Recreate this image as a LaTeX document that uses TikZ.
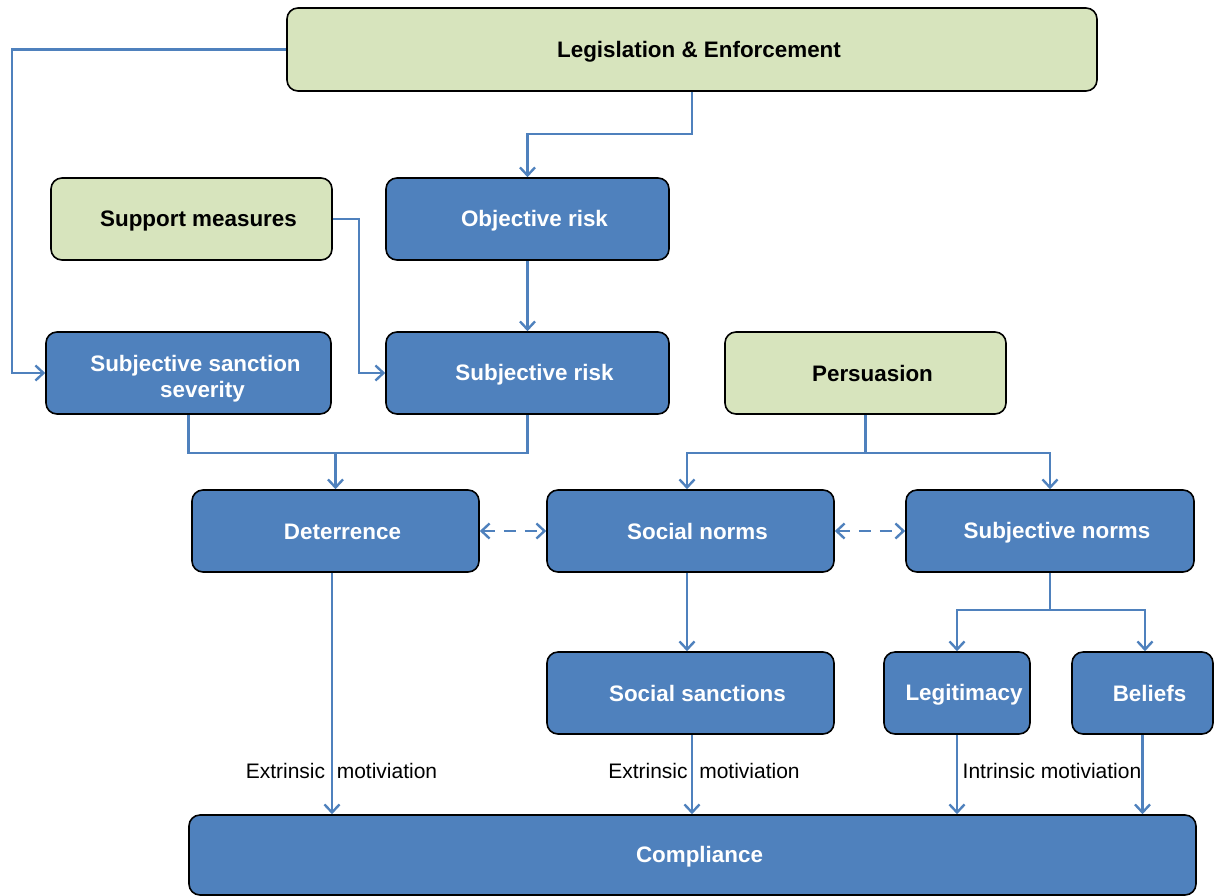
\documentclass[tikz,border=0pt]{standalone}
\usepackage{fontspec}
\setmainfont{Liberation Sans}
\usetikzlibrary{arrows.meta,calc}
\definecolor{boxblue}{HTML}{4F81BD}
\definecolor{boxgreen}{HTML}{D7E4BD}
\definecolor{linkblue}{HTML}{4F81BD}
\newcommand\txs{\hspace*{14pt}\rule[-4pt]{0pt}{24pt}}
\tikzset{
  bbox/.style={draw=black, line width=1.6pt, rounded corners=11pt, fill=boxblue,
    text=white, font=\bfseries\fontsize{22.4}{26}\selectfont, align=center,
    inner sep=0pt, execute at begin node=\txs},
  gbox/.style={bbox, fill=boxgreen, text=black},
  link/.style={draw=linkblue, line width=2.6pt},
  arr/.style={link, -{Straight Barb[length=8pt,width=15pt,line width=2.4pt]}},
  darr/.style={link, dash pattern=on 12pt off 9pt,
    {Straight Barb[length=8pt,width=15pt,line width=2.4pt]}-{Straight Barb[length=8pt,width=15pt,line width=2.4pt]}},
  lab/.style={font=\fontsize{21}{24}\selectfont, inner sep=0pt}
}
\begin{document}
\begin{tikzpicture}[x=1pt,y=-1pt]
\useasboundingbox (0,0) rectangle (1215,895);
% boxes
\node[gbox, minimum width=810pt, minimum height=83pt] (leg) at (692,49.5) {Legislation \& Enforcement};
\node[gbox, minimum width=281pt, minimum height=82pt] (sup) at (191.5,219) {Support measures};
\node[bbox, minimum width=283pt, minimum height=82pt] (obj) at (527.5,219) {Objective risk};
\node[bbox, minimum width=285pt, minimum height=82pt] (sss) at (188.5,373) {\rule[-4pt]{0pt}{32pt}Subjective sanction\\\txs severity};
\node[bbox, minimum width=283pt, minimum height=82pt] (srisk) at (527.5,373) {Subjective risk};
\node[gbox, minimum width=281pt, minimum height=82pt] (per) at (865.5,373) {Persuasion};
\node[bbox, minimum width=287pt, minimum height=82pt] (det) at (335.5,531) {Deterrence};
\node[bbox, minimum width=287pt, minimum height=82pt] (sn) at (690.5,531) {Social norms};
\node[bbox, minimum width=288pt, minimum height=82pt] (subn) at (1050,531) {Subjective norms};
\node[bbox, minimum width=287pt, minimum height=82pt] (ss) at (690.5,693) {Social sanctions};
\node[bbox, minimum width=146pt, minimum height=82pt] (legit) at (957,693) {Legitimacy};
\node[bbox, minimum width=141pt, minimum height=82pt] (bel) at (1142.5,693) {Beliefs};
\node[bbox, minimum width=1007pt, minimum height=80pt] (comp) at (692.5,855) {Compliance};
% junctions
\coordinate (jl) at (12,49.5);
\coordinate (j1) at (335.5,453);
\coordinate (j2) at (865.5,453);
\coordinate (j3) at (1050,610);
% connectors
\draw[arr] (leg.west) -- (jl) |- (sss.west);
\draw[arr] (leg.south) -- ++(0,42) -| (obj.north);
\draw[arr] (sup.east) -- ++(26,0) |- (srisk.west);
\draw[arr] (obj.south) -- (srisk.north);
\draw[link] (sss.south) |- (j1) -| (srisk.south);
\draw[arr] (j1) -- (det.north);
\draw[arr] (per.south) -- (j2) -| ([xshift=-3.5pt]sn.north);
\draw[arr] (j2) -| (subn.north);
\draw[darr] (det.east) -- (sn.west);
\draw[darr] (sn.east) -- (subn.west);
\draw[arr] ([xshift=-3.5pt]sn.south) -- ([xshift=-3.5pt]ss.north);
\draw[arr] (subn.south) -- (j3) -| (legit.north);
\draw[arr] (j3) -| ([xshift=2.5pt]bel.north);
\draw[arr] ([xshift=-3.5pt]det.south) -- ([xshift=-3.5pt]det.south |- comp.north);
\draw[arr] ([xshift=1.5pt]ss.south) -- ([xshift=1.5pt]ss.south |- comp.north);
\draw[arr] (legit.south) -- (legit.south |- comp.north);
\draw[arr] (bel.south) -- (bel.south |- comp.north);
% labels
\node[lab] (l1) at (341.5,771) {Extrinsic\ \ motiviation};
\node[lab] (l2) at (704,771) {Extrinsic\ \ motiviation};
\node[lab] (l3) at (1052,771) {Intrinsic motiviation};
\end{tikzpicture}
\end{document}
